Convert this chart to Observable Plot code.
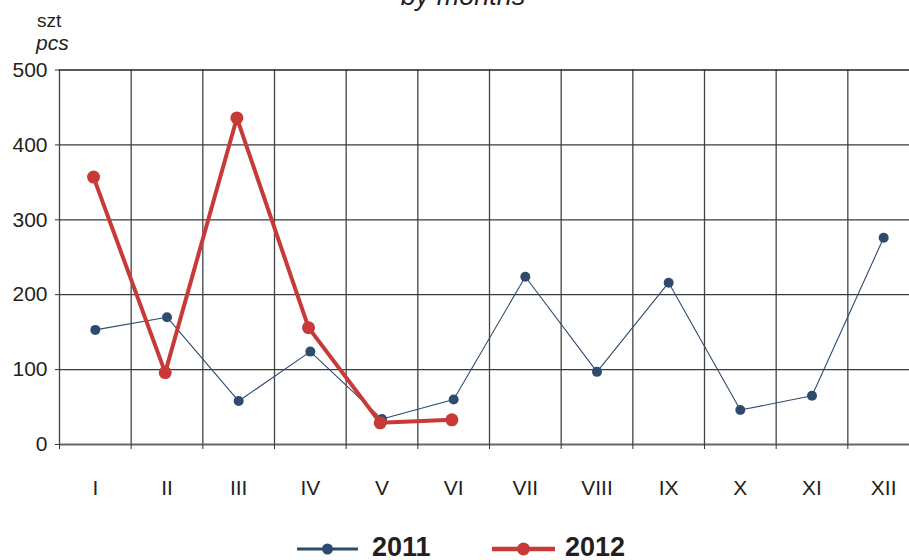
<!DOCTYPE html>
<html>
<head>
<meta charset="utf-8">
<script src="https://cdn.jsdelivr.net/npm/d3@7"></script>
<script src="https://cdn.jsdelivr.net/npm/@observablehq/plot@0.6"></script>
<style>
  html, body { margin: 0; padding: 0; background: #fff; overflow: hidden; }
  body { width: 909px; height: 560px; position: relative; font-family: "Liberation Sans", Arial, sans-serif; color: #231f20; }
  #chart { position: absolute; left: 0; top: 0; }
  #overlay { position: absolute; left: 0; top: 0; }
  #legend { position: absolute; left: 0; top: 520px; }
</style>
</head>
<body>
<div id="chart"></div>
<svg id="overlay" width="909" height="60"></svg>
<svg id="legend" width="909" height="40"></svg>
<script>
const months = ["I","II","III","IV","V","VI","VII","VIII","IX","X","XI","XII"];
const sales2011 = [153,170,58,124,34,60,224,97,216,46,65,276];
const sales2012 = [357,96,436,156,29,33];
const yTicks = [0,100,200,300,400,500];
const seriesNames = ["2011","2012"];
const colors = {"2011": "#2e4b6e", "2012": "#c83a38"};
const titleText = "by months";
const unitText = ["szt", "pcs"];

const d2011 = sales2011.map((v,i) => ({i, month: months[i], value: v}));
const d2012 = sales2012.map((v,i) => ({i, month: months[i], value: v}));
const bounds = d3.range(months.length + 1);

const plot = Plot.plot({
  width: 909,
  height: 515,
  marginLeft: 59, marginRight: 0, marginTop: 69, marginBottom: 71,
  style: {fontFamily: "Liberation Sans, Arial, sans-serif", fontSize: "21px", color: "#231f20", background: "transparent"},
  x: {domain: [0, 12], range: [59, 919]},
  y: {domain: [0, 500], range: [444, 69.5]},
  marks: [
    Plot.ruleX(bounds, {x: d => d, y1: 0, y2: 500, stroke: "#444", strokeWidth: 1.3}),
    Plot.ruleY(yTicks, {y: d => d, x1: 0, x2: 12, stroke: d => d === 0 ? "#666" : d === 500 ? "#222" : "#3a3a3a", strokeWidth: d => d === 0 ? 2 : 1.3}),
    Plot.axisY({ticks: yTicks, tickSize: 4, tickPadding: 8, tickFormat: d => d, stroke: "#333", fontSize: 21, label: null}),
    Plot.axisX({ticks: bounds, tickSize: 5, tickFormat: () => "", stroke: "#333", label: null}),
    Plot.axisX({ticks: months.map((m,i) => i + 0.5), tickSize: 0, tickPadding: 36, tickFormat: d => months[Math.floor(d)], fontSize: 21, label: null}),
    Plot.line(d2011, {x: d => d.i + 0.5, y: "value", stroke: colors["2011"], strokeWidth: 1.1}),
    Plot.dot(d2011, {x: d => d.i + 0.5, y: "value", fill: colors["2011"], r: 5}),
    Plot.line(d2012, {x: d => d.i + 0.5 - 0.025, y: "value", stroke: colors["2012"], strokeWidth: 4}),
    Plot.dot(d2012, {x: d => d.i + 0.5 - 0.025, y: "value", fill: colors["2012"], r: 6.5})
  ]
});
document.getElementById("chart").appendChild(plot);

// title and unit labels
const ov = d3.select("#overlay");
ov.append("text").attr("x", 463).attr("y", 5).attr("text-anchor", "middle")
  .attr("font-family", "Liberation Sans, Arial, sans-serif").attr("font-style", "italic")
  .attr("font-size", 27).attr("fill", "#231f20").text(titleText);
ov.append("text").attr("x", 37).attr("y", 27)
  .attr("font-family", "Liberation Sans, Arial, sans-serif")
  .attr("font-size", 19).attr("fill", "#231f20").text(unitText[0]);
ov.append("text").attr("x", 36).attr("y", 50)
  .attr("font-family", "Liberation Sans, Arial, sans-serif").attr("font-style", "italic")
  .attr("font-size", 21).attr("fill", "#231f20").text(unitText[1]);

// legend
const lg = d3.select("#legend");
const items = [
  {name: seriesNames[0], x0: 297, x1: 358, w: 3, r: 5.5, tx: 372},
  {name: seriesNames[1], x0: 492, x1: 555, w: 4.5, r: 6.5, tx: 565}
];
for (const it of items) {
  lg.append("line").attr("x1", it.x0).attr("x2", it.x1).attr("y1", 29).attr("y2", 29)
    .attr("stroke", colors[it.name]).attr("stroke-width", it.w);
  lg.append("circle").attr("cx", (it.x0 + it.x1) / 2).attr("cy", 29).attr("r", it.r).attr("fill", colors[it.name]);
  lg.append("text").attr("x", it.tx).attr("y", 36).text(it.name)
    .attr("font-family", "Liberation Sans, Arial, sans-serif").attr("font-weight", "bold")
    .attr("font-size", 27).attr("fill", "#231f20");
}
</script>
</body>
</html>
